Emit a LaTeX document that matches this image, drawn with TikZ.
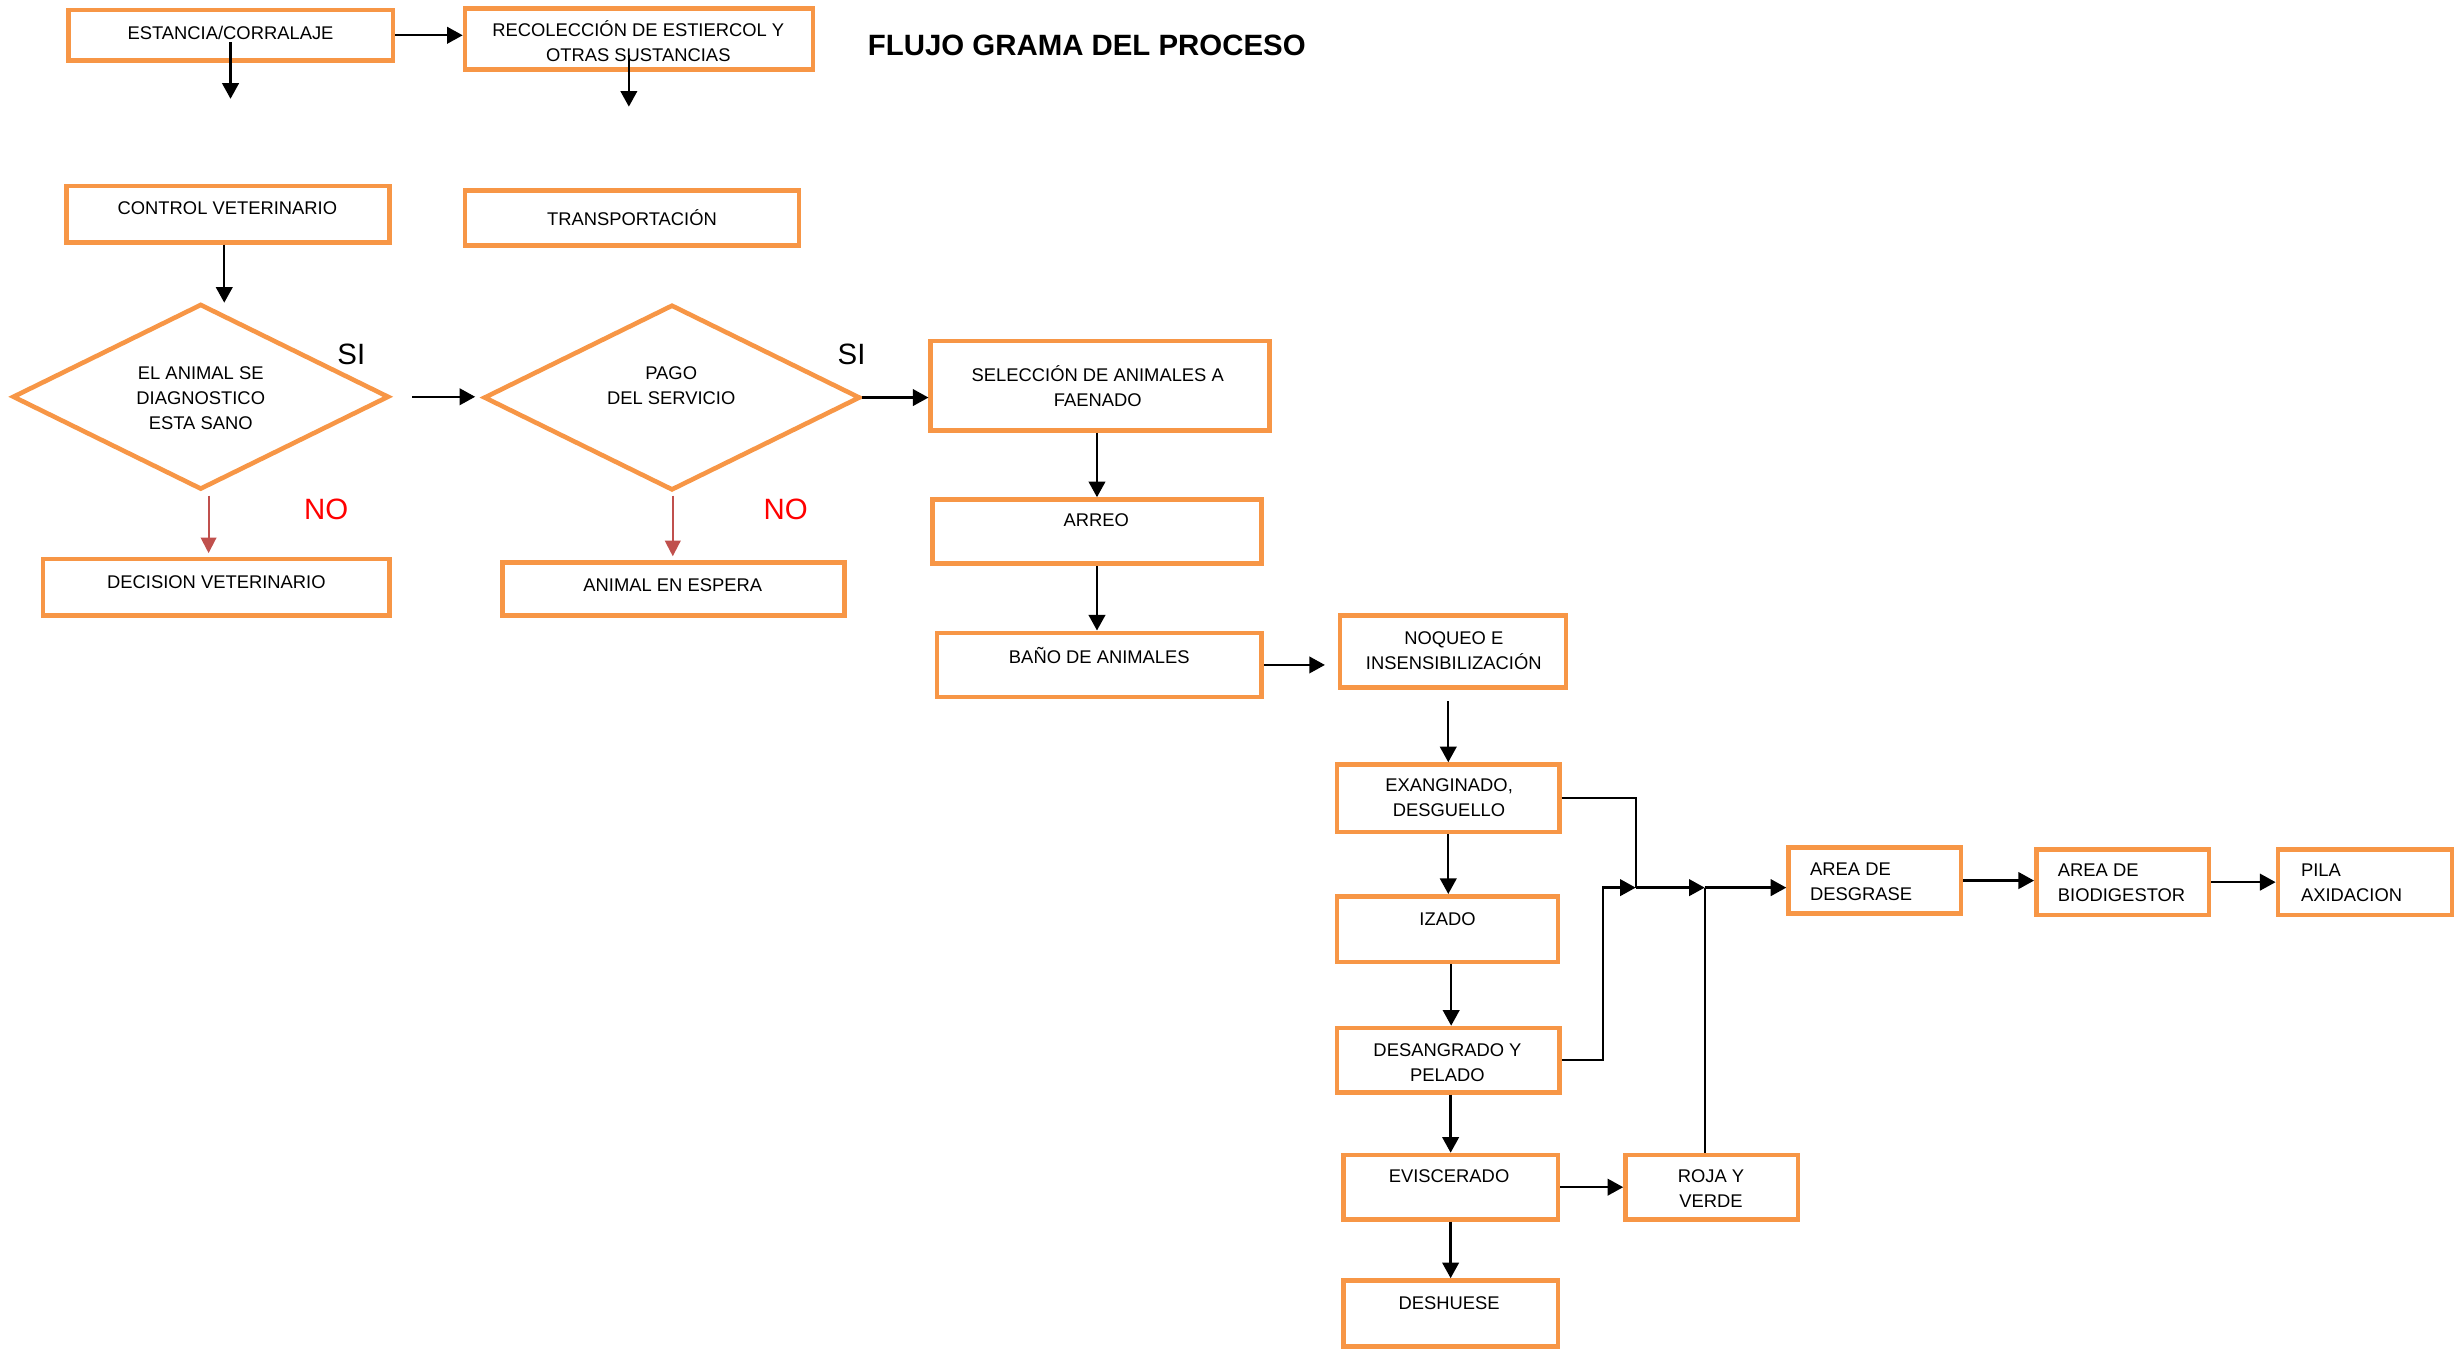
\documentclass[tikz,border=0pt]{standalone}
\usepackage{fontspec}
\setmainfont{Liberation Sans}
\usetikzlibrary{arrows.meta,shapes.geometric,fit}
\definecolor{boxorange}{HTML}{F79646}
\definecolor{noarrow}{HTML}{C0504D}
\begin{document}
\begin{tikzpicture}[x=0.03cm,y=-0.03cm,
  box/.style={draw=boxorange, line width=2.5pt, inner sep=0pt, rectangle},
  decide/.style={draw=boxorange, line width=2.5pt, inner sep=0pt, diamond,
    minimum width=7.2cm, minimum height=3.55cm},
  txt/.style={font=\fontsize{10}{13.6}\selectfont, align=center, inner sep=0pt},
  ltxt/.style={txt, align=left, anchor=west},
  arr/.style={line width=1.3pt, -{Triangle[length=8.5pt,width=9pt]}},
  redarr/.style={draw=noarrow, line width=1.1pt, -{Triangle[length=8.5pt,width=8.5pt]}},
  ans/.style={font=\fontsize{16}{18}\selectfont, inner sep=0pt},
]
\useasboundingbox (0,0) rectangle (1568,860);

% title
\node[font=\fontsize{16}{18}\selectfont\bfseries, inner sep=0pt] (title) at (693,29) {FLUJO GRAMA DEL PROCESO};

% process boxes
\node[box, fit={(43.5,6.5) (250.5,38.5)}]     (estancia) {};
\node[box, fit={(296.5,5.5) (518.5,44.5)}]    (recol) {};
\node[box, fit={(42.5,118.5) (248.5,154.5)}]  (control) {};
\node[box, fit={(296.5,121.5) (509.5,156.5)}] (transp) {};
\node[box, fit={(27.5,356.5) (248.5,392.5)}]  (decision) {};
\node[box, fit={(320.5,358.5) (538.5,392.5)}] (espera) {};
\node[box, fit={(593.5,217.5) (809.5,274.5)}] (selec) {};
\node[box, fit={(594.5,318.5) (804.5,359.5)}] (arreo) {};
\node[box, fit={(597.5,403.5) (804.5,444.5)}] (bano) {};
\node[box, fit={(854.5,392.5) (998.5,438.5)}] (noqueo) {};
\node[box, fit={(852.5,487.5) (994.5,530.5)}] (exang) {};
\node[box, fit={(852.5,571.5) (993.5,613.5)}] (izado) {};
\node[box, fit={(852.5,655.5) (994.5,696.5)}] (desang) {};
\node[box, fit={(856.5,736.5) (993.5,777.5)}] (evisc) {};
\node[box, fit={(856.5,816.5) (993.5,858.5)}] (deshuese) {};
\node[box, fit={(1036.5,736.5) (1146.5,777.5)}] (roja) {};
\node[box, fit={(1140.5,540.5) (1250.5,582.5)}] (desgrase) {};
\node[box, fit={(1298.5,541.5) (1408.5,583.5)}] (biodig) {};
\node[box, fit={(1452.5,541.5) (1563.5,583.5)}] (pila) {};

% decisions
\node[decide] (sano) at (128,253) {};
\node[decide] (pago) at (428.5,253.5) {};

% box texts
\node[txt] (t-estancia) at (147,21) {ESTANCIA/CORRALAJE};
\node[txt] (t-recol) at (407,26) {RECOLECCIÓN DE ESTIERCOL Y\\OTRAS SUSTANCIAS};
\node[txt] (t-control) at (145,133) {CONTROL VETERINARIO};
\node[txt] (t-transp) at (403,139) {TRANSPORTACIÓN};
\node[txt] (t-sano) at (128,254) {EL ANIMAL SE\\DIAGNOSTICO\\ESTA SANO};
\node[txt] (t-pago) at (428,246) {PAGO\\DEL SERVICIO};
\node[txt] (t-decision) at (138,371) {DECISION VETERINARIO};
\node[txt] (t-espera) at (429,373) {ANIMAL EN ESPERA};
\node[txt] (t-selec) at (700,246) {SELECCIÓN DE ANIMALES A\\FAENADO};
\node[txt] (t-arreo) at (699,332) {ARREO};
\node[txt] (t-bano) at (701,418) {BAÑO DE ANIMALES};
\node[txt] (t-noqueo) at (927,415) {NOQUEO E\\INSENSIBILIZACIÓN};
\node[txt] (t-exang) at (924,508.5) {EXANGINADO,\\DESGUELLO};
\node[txt] (t-izado) at (923,586) {IZADO};
\node[txt] (t-desang) at (923,677.5) {DESANGRADO Y\\PELADO};
\node[txt] (t-evisc) at (924,750) {EVISCERADO};
\node[txt] (t-deshuese) at (924,831) {DESHUESE};
\node[txt] (t-roja) at (1091,758) {ROJA Y\\VERDE};
\node[ltxt] (t-desgrase) at (1154,562) {AREA DE\\DESGRASE};
\node[ltxt] (t-biodig) at (1312,563) {AREA DE\\BIODIGESTOR};
\node[ltxt] (t-pila) at (1467,563) {PILA\\AXIDACION};

% answers
\node[ans] (si1) at (224,226) {SI};
\node[ans] (si2) at (543,226) {SI};
\node[ans, text=red] (no1) at (208,325) {NO};
\node[ans, text=red] (no2) at (501,325) {NO};

% free ends of connectors
\coordinate (e1) at (147,27);  \coordinate (e2) at (147,63);
\coordinate (r1) at (401,35);  \coordinate (r2) at (401,68);
\coordinate (c1) at (143,193);
\coordinate (d1) at (263,253); \coordinate (d2) at (303,253);
\coordinate (n1) at (133,316); \coordinate (n2) at (429,316);
\coordinate (k)  at (1022,566);
\coordinate (j1) at (1043,566);
\coordinate (j2) at (1087,566);

% connectors
\draw[arr] (estancia.east) -- (estancia.east -| recol.west);
\draw[arr] (e1) -- (e2);
\draw[arr] (r1) -- (r2);
\draw[arr] (control.south -| c1) -- (c1);
\draw[arr] (d1) -- (d2);
\draw[arr] (pago.east) -- (pago.east -| selec.west);
\draw[redarr, shorten >=2pt] (n1) -- (n1 |- decision.north);
\draw[redarr, shorten >=2pt] (n2) -- (n2 |- espera.north);
\draw[arr] (selec.south -| arreo.north) -- (arreo.north);
\draw[arr] (arreo.south) -- (arreo.south |- bano.north);
\draw[arr, shorten >=7pt] (bano.east) -- (bano.east -| noqueo.west);
\draw[arr, shorten <=6pt] (noqueo.south -| exang.north) -- (exang.north);
\draw[arr] (exang.south) -- (exang.south |- izado.north);
\draw[arr] ([xshift=2pt]izado.south) -- ([xshift=2pt]izado.south |- desang.north);
\draw[arr] (desang.south -| evisc.north) -- (evisc.north);
\draw[arr] (evisc.south) -- (evisc.south |- deshuese.north);
\draw[arr] (evisc.east) -- (evisc.east -| roja.west);
\draw[line width=1.3pt] (exang.east) -| (j1);
\draw[arr] (desang.east) -| (k) -- (j1);
\draw[arr] (j1) -- (j2);
\draw[line width=1.3pt] (j2 |- roja.north) -- (j2);
\draw[arr] (j2) -- (j2 -| desgrase.west);
\draw[arr] (desgrase.east) -- (desgrase.east -| biodig.west);
\draw[arr] (biodig.east) -- (biodig.east -| pila.west);
\end{tikzpicture}
\end{document}
